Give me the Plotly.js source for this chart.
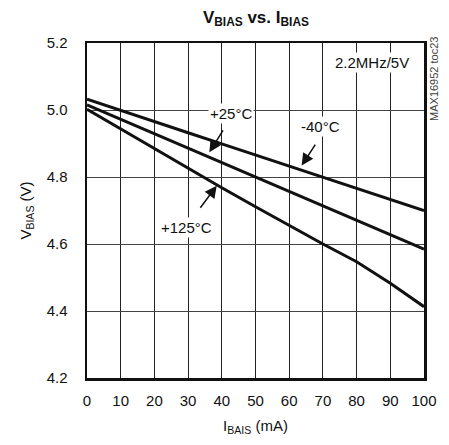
<!DOCTYPE html>
<html>
<head>
<meta charset="utf-8">
<script src="https://cdn.plot.ly/plotly-3.0.1.min.js"></script>
<style>html,body{margin:0;padding:0;background:#fff;}#chart{width:449px;height:445px;}</style>
</head>
<body>
<div id="chart"></div>
<script>
const iBias = [0, 10, 20, 30, 40, 50, 60, 70, 80, 90, 100];
const vMinus40 = [5.032, 4.998, 4.965, 4.932, 4.899, 4.866, 4.833, 4.800, 4.767, 4.734, 4.700];
const vPlus25  = [5.015, 4.972, 4.929, 4.886, 4.843, 4.800, 4.757, 4.714, 4.671, 4.628, 4.585];
const vPlus125 = [5.002, 4.943, 4.884, 4.826, 4.768, 4.711, 4.655, 4.600, 4.547, 4.483, 4.413];
const xTicks = [0, 10, 20, 30, 40, 50, 60, 70, 80, 90, 100];
const yTicks = [4.2, 4.4, 4.6, 4.8, 5.0, 5.2];

const FONT = 'Liberation Sans, Arial, sans-serif';
const lineStyle = {color: '#111', width: 3};

const traces = [
  {x: iBias, y: vMinus40, mode: 'lines', line: lineStyle, name: '-40°C', hoverinfo: 'skip'},
  {x: iBias, y: vPlus25, mode: 'lines', line: lineStyle, name: '+25°C', hoverinfo: 'skip'},
  {x: iBias, y: vPlus125, mode: 'lines', line: lineStyle, name: '+125°C', hoverinfo: 'skip'}
];

function arrow(x, y, ax, ay) {
  return {x: x, y: y, xref: 'x', yref: 'y', ax: ax, ay: ay, axref: 'pixel', ayref: 'pixel',
    showarrow: true, arrowhead: 2, arrowsize: 1.6, arrowwidth: 1.5, arrowcolor: '#111', text: ' '};
}
function label(text, x, y) {
  return {x: x, y: y, xref: 'x', yref: 'y', text: text, showarrow: false,
    bgcolor: '#fff', borderpad: 1, font: {family: FONT, size: 15, color: '#111'}};
}

const layout = {
  width: 449, height: 445,
  margin: {l: 87, r: 25, t: 43, b: 67},
  paper_bgcolor: '#fff', plot_bgcolor: '#fff',
  showlegend: false,
  title: {text: '<b>V<sub>BIAS</sub> vs. I<sub>BIAS</sub></b>', x: 0.57, xanchor: 'center', y: 0.962, yanchor: 'middle',
    font: {family: FONT, size: 17, color: '#111'}},
  xaxis: {
    range: [0, 100], tickvals: xTicks, ticktext: xTicks.map(String),
    showgrid: true, gridcolor: '#222', gridwidth: 1,
    showline: true, linecolor: '#111', linewidth: 2.5, mirror: true,
    ticks: 'outside', ticklen: 7, tickcolor: 'rgba(0,0,0,0)',
    zeroline: false, fixedrange: true,
    tickfont: {family: FONT, size: 15, color: '#111'},
    title: {text: 'I<sub>BAIS</sub> (mA)', standoff: 13, font: {family: FONT, size: 15, color: '#111'}}
  },
  yaxis: {
    range: [4.2, 5.2], tickvals: yTicks, ticktext: yTicks.map(v => v.toFixed(1)),
    showgrid: true, gridcolor: '#444', gridwidth: 1,
    showline: true, linecolor: '#111', linewidth: 2.5, mirror: true,
    ticks: 'outside', ticklen: 14, tickcolor: 'rgba(0,0,0,0)',
    zeroline: false, fixedrange: true,
    tickfont: {family: FONT, size: 15, color: '#111'},
    title: {text: 'V<sub>BIAS</sub> (V)', standoff: 12, font: {family: FONT, size: 15, color: '#111'}}
  },
  annotations: [
    arrow(36.3, 4.874, 16.7, -26.6),
    arrow(63.7, 4.834, 16.6, -25.7),
    arrow(38.5, 4.774, -19.4, 26),
    label('+25°C', 42.6, 4.989),
    label('-40°C', 69.2, 4.950),
    label('+125°C', 29.6, 4.648),
    label('2.2MHz/5V', 84.6, 5.143),
    {xref: 'paper', yref: 'paper', x: 1.03, xanchor: 'center', y: 0.893, yanchor: 'middle',
      text: 'MAX16952 toc23', showarrow: false,
      textangle: -90, font: {family: FONT, size: 11, color: '#444'}}
  ]
};

Plotly.newPlot('chart', traces, layout, {displayModeBar: false, staticPlot: true});
</script>
</body>
</html>
